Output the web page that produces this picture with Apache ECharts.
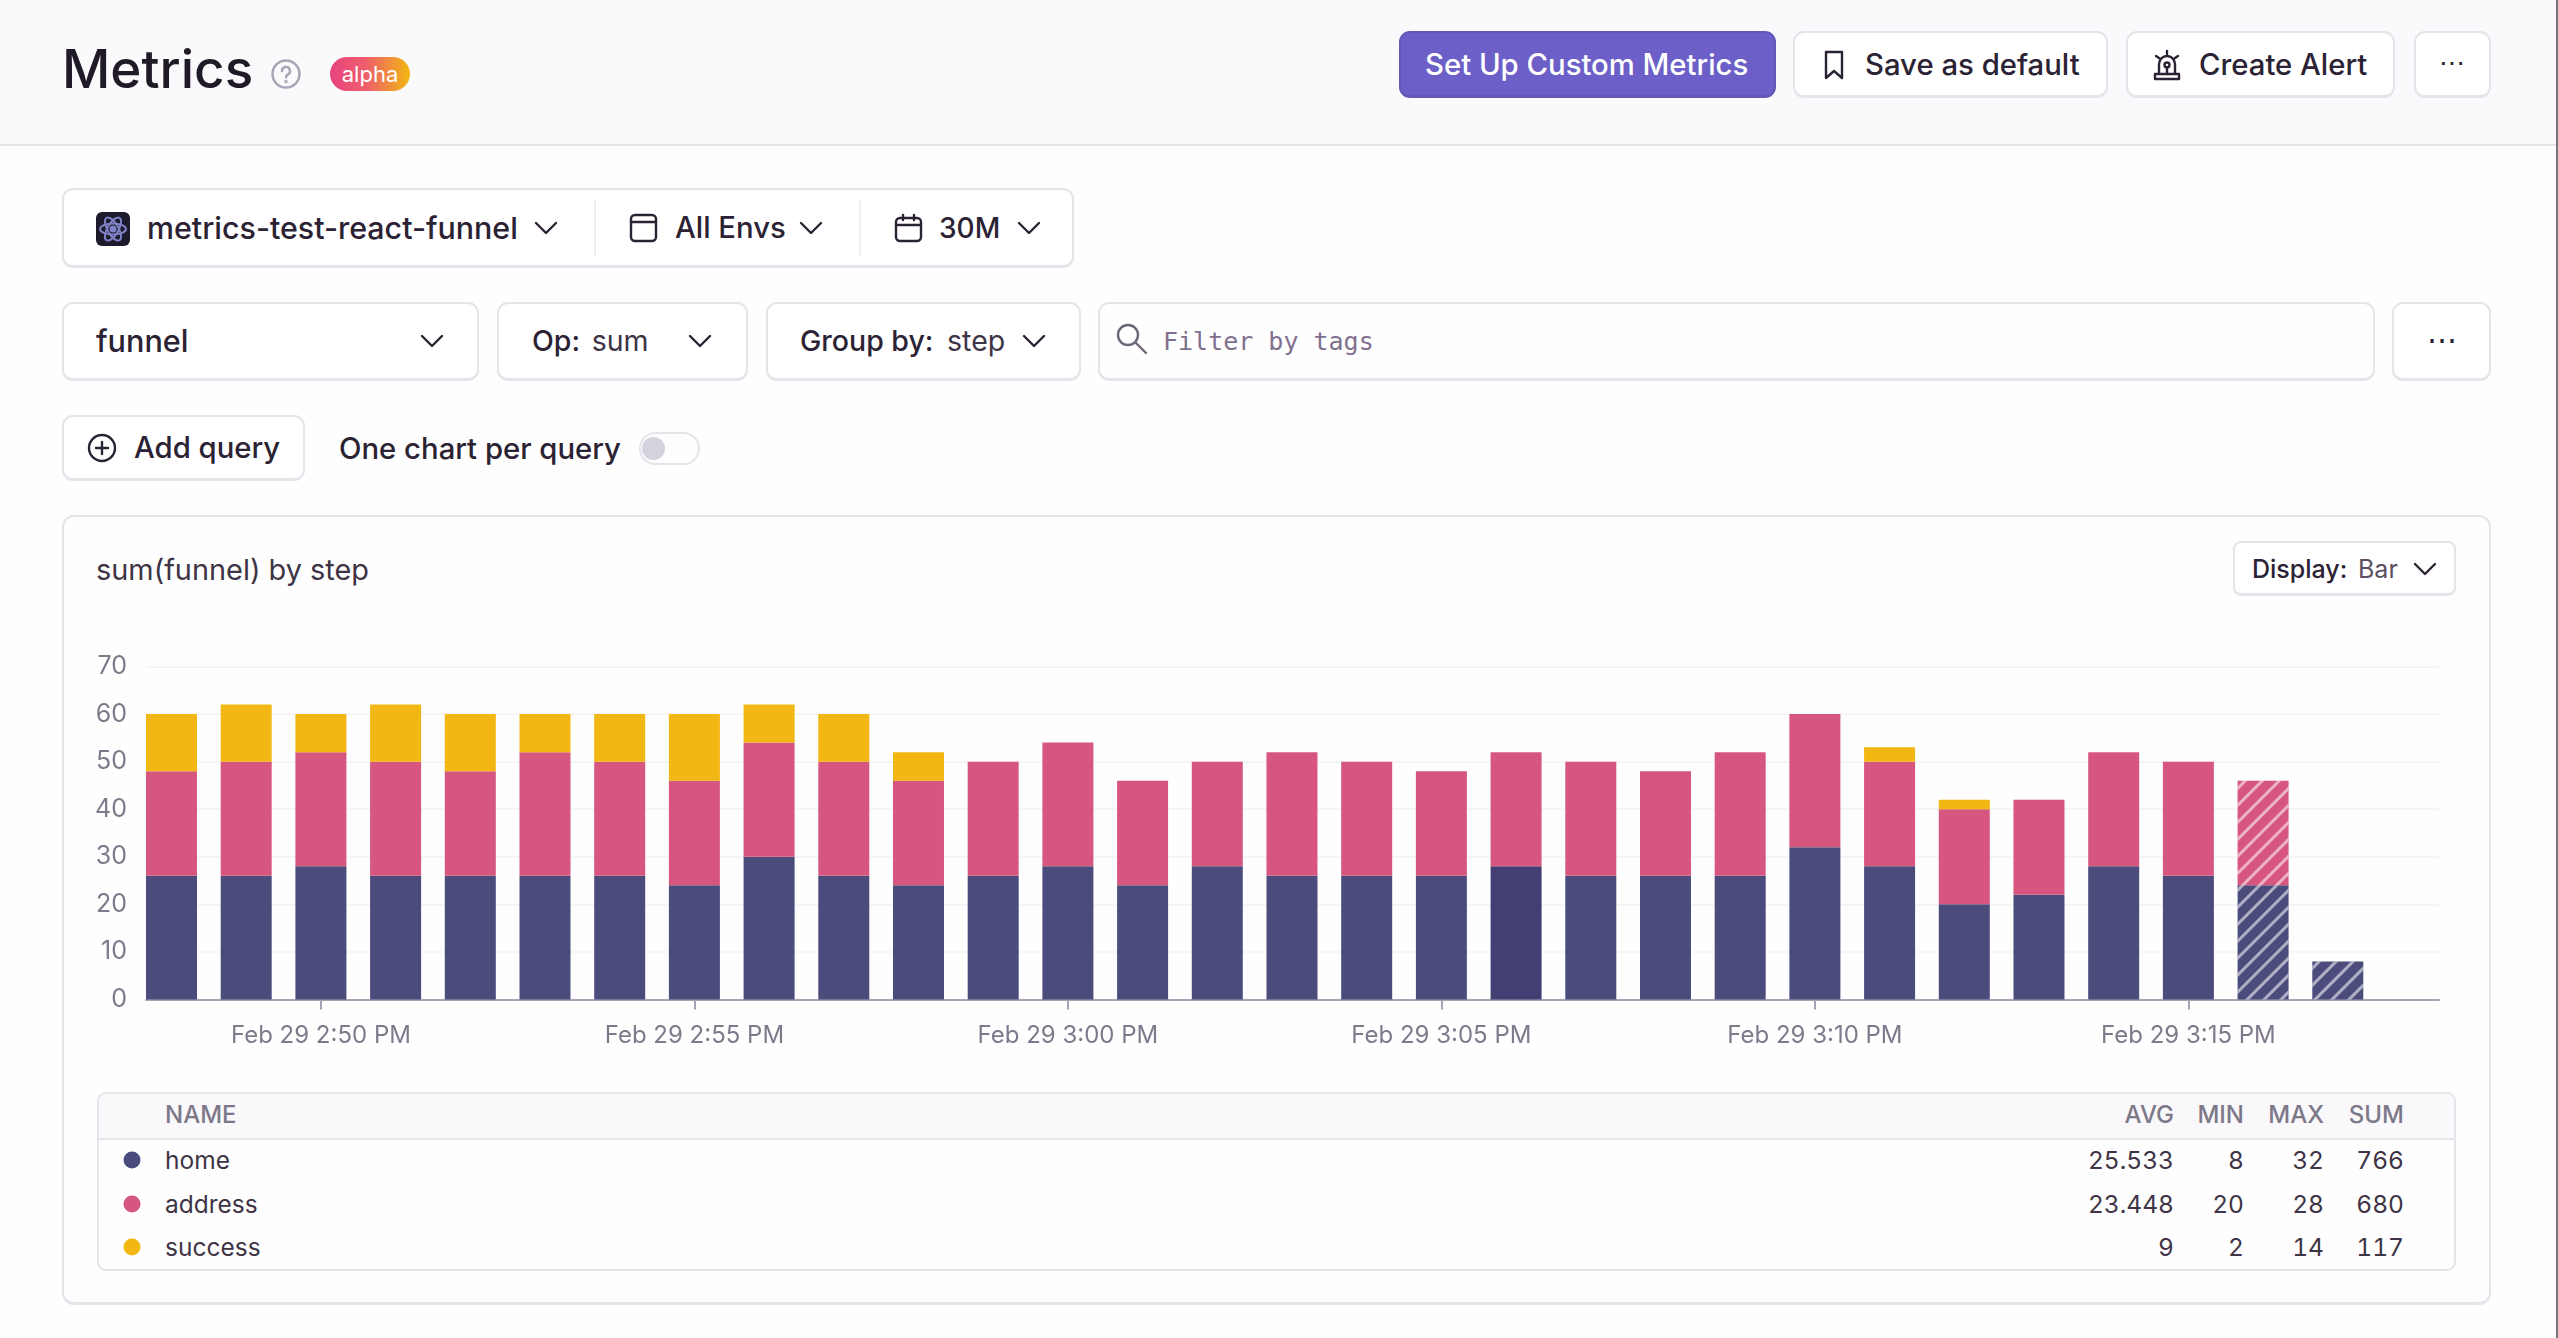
<!DOCTYPE html>
<html lang="en">
<head>
  <meta charset="UTF-8">
  <title>Metrics</title>
  <style>
    html, body { margin: 0; padding: 0; background: #fefefe; }
    body { width: 2558px; height: 1338px; position: relative; overflow: hidden; font-family: Inter, "Noto Sans", sans-serif; color: #2b2233; }
    .abs, .box, .t, svg { position: absolute; }
    .box { box-sizing: border-box; background: #fff; border: 2px solid #e6e3ea; border-bottom-width: 3px; border-radius: 11px; }
    .t { white-space: nowrap; font-size: 29.3px; font-weight: 500; line-height: 34px; transform: translateY(-50%); }
    .light { font-weight: 400; color: #3e3446; }
    svg { fill: none; stroke: #2b2233; stroke-width: 2.4; stroke-linecap: round; stroke-linejoin: round; }
    #header { position: absolute; left: 0; top: 0; width: 2558px; height: 146px; background: #faf9fb; border-bottom: 2px solid #e6e3ea; box-sizing: border-box; }
    #edge { position: absolute; right: 0; top: 0; width: 2px; height: 1338px; background: #77747c; }
    #alpha { left: 330px; top: 57px; width: 80px; height: 34px; border-radius: 17px; background: linear-gradient(90deg, #e8437f, #ee5f6c 45%, #f2b712); color: #fff; font-size: 22px; line-height: 34px; text-align: center; }
    #panel { left: 62px; top: 515px; width: 2429px; height: 790px; background: #fefefe; border-radius: 12px; }
    #main { position: absolute; left: 62px; top: 620px; width: 2429px; height: 450px; }
    #legend { position: absolute; left: 97px; top: 1092px; width: 2359px; height: 179px; box-sizing: border-box; border: 2px solid #e6e3ea; border-radius: 9px; overflow: hidden; }
    #legendHead { position: absolute; left: 0; top: 0; right: 0; height: 44px; background: #f9f8fa; border-bottom: 2px solid #e6e3ea; }
    .cell { position: absolute; transform: translateY(-50%); font-size: 24.5px; line-height: 30px; white-space: nowrap; color: #3e3446; }
    .head { font-size: 24px; font-weight: 500; color: #7d7889; }
    .dot { position: absolute; width: 17px; height: 17px; border-radius: 50%; transform: translate(-50%, -50%); }
    .num { text-align: right; font-size: 24.5px; font-variant-numeric: tabular-nums; }
  </style>
</head>
<body>
  <div id="header"></div>
  <div class="t" style="left:62px;top:69px;font-size:53px;line-height:60px;color:#1f1a26;">Metrics</div>
  <svg style="left:270px;top:58px;stroke:#a9a3b5;stroke-width:2.4" width="32" height="32" viewBox="0 0 32 32"><circle cx="16" cy="16" r="13.5"/><path d="M12 13a4 4 0 1 1 6 3.4c-1.4.8-2 1.6-2 3"/><circle cx="16" cy="23.5" r=".6"/></svg>
  <div class="abs" id="alpha">alpha</div>

  <div class="box" style="left:1399px;top:31px;width:377px;height:67px;background:#6c5fc7;border-color:#6258b8;"></div>
  <div class="t" style="left:1425px;top:65px;color:#fff;">Set Up Custom Metrics</div>
  <div class="box" style="left:1793px;top:31px;width:315px;height:67px;"></div>
  <svg style="left:1820px;top:50px" width="28" height="30" viewBox="0 0 28 30"><path d="M6 2h16v26l-8-7-8 7z"/></svg>
  <div class="t" style="left:1865px;top:65px;">Save as default</div>
  <div class="box" style="left:2126px;top:31px;width:269px;height:67px;"></div>
  <svg style="left:2151px;top:49px" width="32" height="32" viewBox="0 0 32 32"><path d="M8 25V15a8 8 0 0 1 16 0v10M4 25h24v5H4zM16 2v3M5 7l3 2M27 7l-3 2"/><circle cx="16" cy="16" r="2.5"/><path d="M16 18v7"/></svg>
  <div class="t" style="left:2199px;top:65px;">Create Alert</div>
  <div class="box" style="left:2414px;top:31px;width:77px;height:67px;"></div>
  <div class="t" style="left:2452px;top:63px;transform:translate(-50%,-50%);font-size:26px;">⋯</div>

  <div class="box" style="left:62px;top:188px;width:1012px;height:80px;"></div>
  <div class="abs" style="left:594px;top:200px;width:2px;height:56px;background:#f0eef2;"></div>
  <div class="abs" style="left:859px;top:200px;width:2px;height:56px;background:#f0eef2;"></div>
  <svg style="left:96px;top:212px;stroke:#7f82c4;stroke-width:2" width="34" height="34" viewBox="0 0 34 34"><rect x="0" y="0" width="34" height="34" rx="6" fill="#1d1a2b" stroke="none"/><ellipse cx="17" cy="17" rx="13" ry="5.5"/><ellipse cx="17" cy="17" rx="13" ry="5.5" transform="rotate(60 17 17)"/><ellipse cx="17" cy="17" rx="13" ry="5.5" transform="rotate(120 17 17)"/><circle cx="17" cy="17" r="2.6" fill="#7f82c4"/></svg>
  <div class="t" style="left:147px;top:228px;font-size:30.4px;">metrics-test-react-funnel</div>
  <svg style="left:534px;top:220px" width="24" height="16" viewBox="0 0 24 16"><path d="M2 3l10 10L22 3"/></svg>
  <svg style="left:629px;top:213px" width="29" height="30" viewBox="0 0 29 30"><rect x="2" y="2" width="25" height="26" rx="4"/><path d="M2 9h25"/></svg>
  <div class="t" style="left:675px;top:228px;">All Envs</div>
  <svg style="left:799px;top:220px" width="24" height="16" viewBox="0 0 24 16"><path d="M2 3l10 10L22 3"/></svg>
  <svg style="left:894px;top:213px" width="29" height="30" viewBox="0 0 29 30"><rect x="2" y="5" width="25" height="23" rx="4"/><path d="M2 12h25M9 2v5M20 2v5"/></svg>
  <div class="t" style="left:939px;top:228px;font-size:28px;">30M</div>
  <svg style="left:1017px;top:220px" width="24" height="16" viewBox="0 0 24 16"><path d="M2 3l10 10L22 3"/></svg>

  <div class="box" style="left:62px;top:302px;width:417px;height:79px;"></div>
  <div class="t" style="left:96px;top:341px;font-size:30.6px;">funnel</div>
  <svg style="left:420px;top:333px" width="24" height="16" viewBox="0 0 24 16"><path d="M2 3l10 10L22 3"/></svg>
  <div class="box" style="left:497px;top:302px;width:251px;height:79px;"></div>
  <div class="t" style="left:532px;top:341px;font-size:28.5px;">Op: <span class="light" style="margin-left:4px">sum</span></div>
  <svg style="left:688px;top:333px" width="24" height="16" viewBox="0 0 24 16"><path d="M2 3l10 10L22 3"/></svg>
  <div class="box" style="left:766px;top:302px;width:315px;height:79px;"></div>
  <div class="t" style="left:800px;top:341px;font-size:28.5px;">Group by: <span class="light" style="margin-left:6px">step</span></div>
  <svg style="left:1022px;top:333px" width="24" height="16" viewBox="0 0 24 16"><path d="M2 3l10 10L22 3"/></svg>
  <div class="box" style="left:1098px;top:302px;width:1277px;height:79px;background:#fefefe;"></div>
  <svg style="left:1115px;top:322px;stroke:#6f6678" width="34" height="34" viewBox="0 0 34 34"><circle cx="13" cy="13" r="10"/><path d="M21 21l10 10"/></svg>
  <div class="t" style="left:1163px;top:342px;font-family:'DejaVu Sans Mono',monospace;font-weight:400;font-size:25px;color:#80708f;">Filter by tags</div>
  <div class="box" style="left:2392px;top:302px;width:99px;height:79px;"></div>
  <div class="t" style="left:2442px;top:339px;transform:translate(-50%,-50%);font-size:30px;">⋯</div>

  <div class="box" style="left:62px;top:415px;width:243px;height:66px;"></div>
  <svg style="left:87px;top:433px" width="30" height="30" viewBox="0 0 30 30"><circle cx="15" cy="15" r="13"/><path d="M15 9v12M9 15h12"/></svg>
  <div class="t" style="left:134px;top:448px;">Add query</div>
  <div class="t" style="left:339px;top:449px;">One chart per query</div>
  <div class="abs" style="left:639px;top:432px;width:61px;height:33px;box-sizing:border-box;border:2px solid #e6e3ea;border-radius:17px;"></div>
  <div class="abs" style="left:642px;top:437px;width:23px;height:23px;border-radius:50%;background:#d5d1dd;"></div>

  <div class="box" id="panel"></div>
  <div class="t light" style="left:96px;top:570px;font-size:28.9px;">sum(funnel) by step</div>
  <div class="box" style="left:2233px;top:541px;width:223px;height:55px;border-radius:8px;"></div>
  <div class="t" style="left:2252px;top:569px;font-size:25px;">Display: <span class="light" style="margin-left:4px;color:#5a5062">Bar</span></div>
  <svg style="left:2413px;top:561px" width="24" height="16" viewBox="0 0 24 16"><path d="M2 3l10 10L22 3"/></svg>

  <div id="main"></div>
  <div id="legend"><div id="legendHead"></div></div>
  <div id="edge"></div>

  <script src="https://cdn.jsdelivr.net/npm/echarts@6/dist/echarts.min.js"></script>
  <script>
    // one bucket per minute
    const buckets = ['14:48','14:49','14:50','14:51','14:52','14:53','14:54','14:55','14:56','14:57',
      '14:58','14:59','15:00','15:01','15:02','15:03','15:04','15:05','15:06','15:07',
      '15:08','15:09','15:10','15:11','15:12','15:13','15:14','15:15','15:16','15:17'];
    const home = [26,26,28,26,26,26,26,24,30,26,24,26,28,24,28,26,26,26,28,26,26,26,32,28,20,22,28,26,24,8];
    const address = [22,24,24,24,22,26,24,22,24,24,22,24,26,22,22,26,24,22,24,24,22,26,28,22,20,20,24,24,22,null];
    const success = [12,12,8,12,12,8,10,14,8,10,6,null,null,null,null,null,null,null,null,null,null,null,null,3,2,null,null,null,null,null];
    const tickTimes = ['14:50','14:55','15:00','15:05','15:10','15:15'];
    const tickLabels = ['Feb 29 2:50 PM','Feb 29 2:55 PM','Feb 29 3:00 PM','Feb 29 3:05 PM','Feb 29 3:10 PM','Feb 29 3:15 PM'];
    const legendNames = ['home','address','success'];
    const legendAvg = ['25.533','23.448','9'];
    const legendMin = ['8','20','2'];
    const legendMax = ['32','28','14'];
    const legendSum = ['766','680','117'];

    const colors = ['#4b4c7c','#d6567f','#f2b712'];
    const darkBucket = 18;      // this bar is a shade darker in the screenshot
    const partialFrom = 28;     // last two buckets are still filling, hatched

    const minute = 60000;
    const toMs = s => Date.UTC(2024, 1, 29, +s.split(':')[0], +s.split(':')[1]);
    const tickValues = tickTimes.map(toMs);
    const xMin = toMs(buckets[0]) - 0.3414 * minute;
    const xMax = toMs(buckets[0]) + 30.355 * minute;

    const hatch = {
      symbol: 'rect',
      color: 'rgba(255,255,255,0.55)',
      dashArrayX: [1, 0],
      dashArrayY: [3, 8.5],
      rotation: -Math.PI / 4
    };

    function makeSeries(name, values, color) {
      return {
        name: name,
        type: 'bar',
        xAxisIndex: 0,
        stack: 'total',
        barWidth: 51,
        itemStyle: { color: color },
        data: values.map((v, i) => {
          const item = { value: [toMs(buckets[i]), v] };
          if (i >= partialFrom) item.itemStyle = { color: color, decal: hatch };
          if (i === darkBucket && name === 'home') item.itemStyle = { color: '#433f73' };
          return item;
        })
      };
    }

    const myChart = echarts.init(document.getElementById('main'));
    myChart.setOption({
      animation: false,
      grid: { left: 84, right: 52, top: 46.5, height: 333 },
      xAxis: [
        // bars sit on the time axis so they stack, it stays hidden.
        // echarts widens a time axis by half a bar each side, so the range here
        // is half a bar narrower than xMin..xMax
        { type: 'time', min: xMin + 0.3414 * minute, max: xMax - 0.3414 * minute, show: false },
        // visible axis, same range, only the 5 minute ticks
        {
          type: 'value',
          position: 'bottom',
          min: xMin,
          max: xMax,
          splitLine: { show: false },
          axisLine: { onZero: false, lineStyle: { color: '#a9a3b5', width: 2 } },
          axisTick: { length: 10, lineStyle: { color: '#a9a3b5', width: 2 }, customValues: tickValues },
          axisLabel: {
            customValues: tickValues,
            formatter: v => tickLabels[tickValues.indexOf(+v)] || '',
            color: '#80798c',
            fontFamily: 'Inter',
            fontSize: 24,
            margin: 24,
            hideOverlap: false
          }
        }
      ],
      yAxis: {
        type: 'value',
        min: 0,
        max: 70,
        interval: 10,
        axisLine: { show: false },
        axisTick: { show: false },
        splitLine: { lineStyle: { color: '#f5f4f6', width: 2 } },
        axisLabel: { color: '#80798c', fontFamily: 'Inter', fontSize: 25, margin: 19, padding: [0, 0, 3, 0] }
      },
      series: [
        makeSeries('home', home, colors[0]),
        makeSeries('address', address, colors[1]),
        makeSeries('success', success, colors[2])
      ]
    });

    // legend table under the chart
    const legend = document.getElementById('legend');
    const columns = [['AVG', legendAvg, 2174], ['MIN', legendMin, 2244], ['MAX', legendMax, 2324], ['SUM', legendSum, 2404]];
    const rowY = [1159.5, 1203.5, 1246.5];
    const headY = 1115;
    function addCell(text, cls, x, y, alignRight) {
      const el = document.createElement('div');
      el.className = 'cell ' + cls;
      el.textContent = text;
      el.style.top = (y - 1094) + 'px';
      if (alignRight) el.style.right = (2454 - x) + 'px';
      else el.style.left = (x - 99) + 'px';
      legend.appendChild(el);
    }
    addCell('NAME', 'head', 165, headY, false);
    columns.forEach(c => addCell(c[0], 'head', c[2], headY, true));
    legendNames.forEach((name, r) => {
      const dot = document.createElement('div');
      dot.className = 'dot';
      dot.style.left = (131.5 - 99) + 'px';
      dot.style.top = (rowY[r] + 0.5 - 1094) + 'px';
      dot.style.background = colors[r];
      legend.appendChild(dot);
      addCell(name, '', 165, rowY[r], false);
      columns.forEach(c => addCell(c[1][r], 'num', c[2], rowY[r], true));
    });
  </script>
</body>
</html>
